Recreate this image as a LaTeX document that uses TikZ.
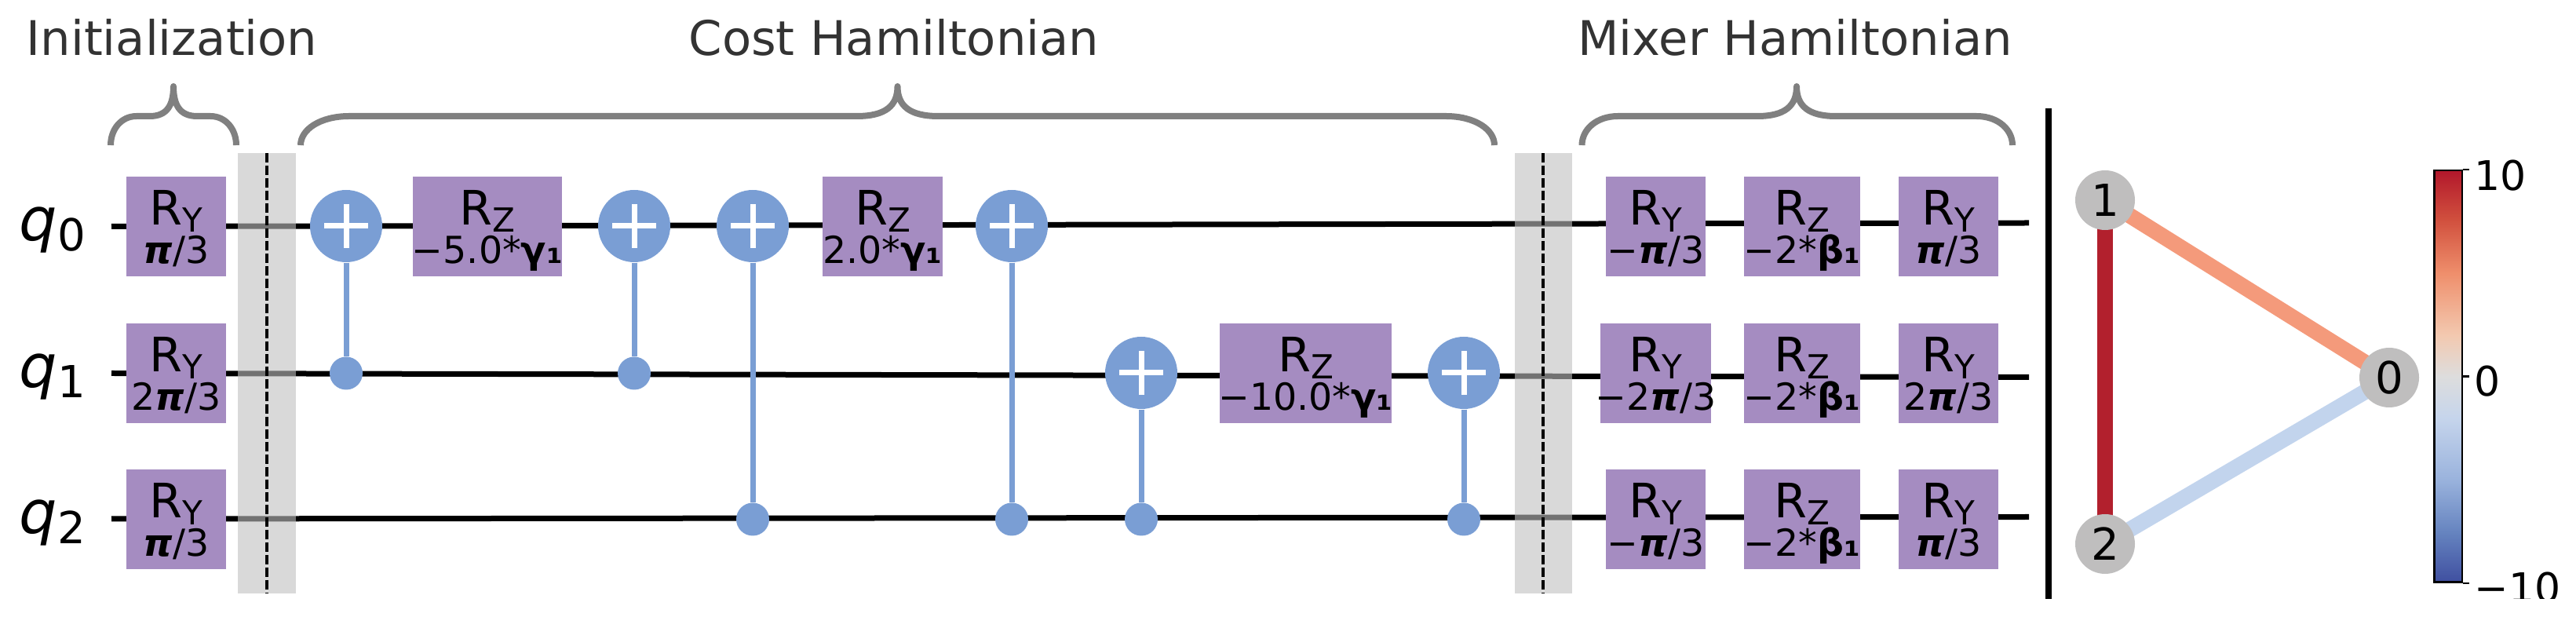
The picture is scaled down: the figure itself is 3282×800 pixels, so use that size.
\documentclass[tikz,border=0pt]{standalone}
\usepackage{fontspec}
\setmainfont{DejaVu Sans}
\usetikzlibrary{backgrounds}
\definecolor{gatepurple}{HTML}{A58CC1}
\definecolor{cnotblue}{HTML}{7A9ED4}
\definecolor{nodegray}{HTML}{BFBEBE}
\definecolor{edgered}{HTML}{B2202D}
\definecolor{edgeorange}{HTML}{F49A7B}
\definecolor{edgeblue}{HTML}{C2D4ED}
\definecolor{cbara}{HTML}{3F4FA0}
\definecolor{cbarb}{HTML}{6583BF}
\definecolor{cbarc}{HTML}{9AB3DD}
\definecolor{cbard}{HTML}{C6D5EC}
\definecolor{cbare}{HTML}{DDDDDD}
\definecolor{cbarf}{HTML}{F3C9B0}
\definecolor{cbarg}{HTML}{EF8F6C}
\definecolor{cbarh}{HTML}{D1503E}
\definecolor{cbari}{HTML}{B2182B}
\pgfdeclareverticalshading{cbarshade}{100bp}{
    color(0bp)=(cbara);
    color(25bp)=(cbara);
    color(31bp)=(cbarb);
    color(37.5bp)=(cbarc);
    color(45bp)=(cbard);
    color(50bp)=(cbare);
    color(55bp)=(cbarf);
    color(62.5bp)=(cbarg);
    color(69bp)=(cbarh);
    color(75bp)=(cbari);
    color(100bp)=(cbari)}
\tikzset{
    wire/.style={line width=.7mm},
    gate/.style={fill=gatepurple, inner sep=0pt, minimum height=12.7mm, align=center,
        font=\fontsize{17.2pt}{14.2pt}\selectfont},
    targ/.style={circle, fill=cnotblue, inner sep=0pt, minimum size=9.2mm,
        path picture={
            \draw[white, line width=.7mm] ([xshift=-2.8mm]path picture bounding box.center) -- ([xshift=2.8mm]path picture bounding box.center);
            \draw[white, line width=.7mm] ([yshift=-2.8mm]path picture bounding box.center) -- ([yshift=2.8mm]path picture bounding box.center);
        }},
    ctrl/.style={circle, fill=cnotblue, inner sep=0pt, minimum size=4.2mm},
    ctrlline/.style={draw=cnotblue, line width=.7mm},
    barrier/.style={fill=black!25!white, draw=none, fill opacity=.6},
    barrierline/.style={line width=.4mm, dash pattern=on 1.2mm off .4mm},
    brace/.style={draw=black!50!white, line width=.8mm, line join=round},
    title/.style={text=black!80!white, anchor=base, inner sep=0pt, font=\fontsize{17.3pt}{17.3pt}\selectfont},
    qlab/.style={anchor=base west, inner sep=0pt},
    graphnode/.style={circle, fill=nodegray, inner sep=0pt, minimum size=7.6mm, font=\fontsize{16pt}{16pt}\selectfont},
    graphedge/.style={line width=2mm},
    cbartick/.style={anchor=base west, inner sep=0pt, font=\fontsize{14.8pt}{14.8pt}\selectfont},
}
\newcommand{\qlabel}[1]{{\fontsize{21.7pt}{22pt}\selectfont\itshape q}\raisebox{-3.7pt}{\fontsize{16pt}{16pt}\selectfont #1}}
\newcommand{\rlabel}[2]{\rule{0pt}{12.8pt}R\raisebox{-2.6pt}{\fontsize{12pt}{14.2pt}\selectfont #1}\\\fontsize{13.5pt}{14.2pt}\selectfont\raisebox{0pt}[\height][0pt]{\makebox[0pt][c]{#2}}}
\newcommand{\bpi}{{\bfseries\itshape π}}
\newcommand{\bgam}{{\bfseries γ₁}}
\newcommand{\bbet}{{\bfseries β₁}}
\newcommand{\qbrace}[5]{
    \draw[brace] (#1,185) .. controls (#1,165) and (#1+#4*.4,148) .. (#1+#4,148)
        -- (#2-#5,148) .. controls (#2-#5*.3,148) and (#2,135) .. (#2,110)
        .. controls (#2,135) and (#2+#5*.3,148) .. (#2+#5,148)
        -- (#3-#4,148) .. controls (#3-#4*.4,148) and (#3,165) .. (#3,185);
}
\begin{document}
\begin{tikzpicture}[x=.1mm, y=-.1mm]
    \useasboundingbox (0,0) rectangle (3282,800);
    \clip (0,0) rectangle (3282,763);

    \node[title] (tinit) at (219,71) {Initialization};
    \node[title] (tcost) at (1139,71) {Cost Hamiltonian};
    \node[title] (tmix) at (2287,71) {Mixer Hamiltonian};
    \qbrace{141}{221}{301}{33}{30}
    \qbrace{383}{1143.5}{1904}{62}{52}
    \qbrace{2015.5}{2289}{2564}{46}{50}

    \node[qlab] (q0) at (24,307) {\qlabel{0}};
    \node[qlab] (q1) at (24,494) {\qlabel{1}};
    \node[qlab] (q2) at (24,680) {\qlabel{2}};

    \coordinate (q0in) at (142,288.5);
    \coordinate (q1in) at (142,475.5);
    \coordinate (q2in) at (142,661);
    \coordinate (q0out) at (2585,284);
    \coordinate (q1out) at (2585,480.5);
    \coordinate (q2out) at (2585,658.5);
    \draw[wire] (q0in) -- (q0out);
    \draw[wire] (q1in) -- (q1out);
    \draw[wire] (q2in) -- (q2out);

    \fill[barrier] (303,195) rectangle (377,382);
    \fill[barrier] (303,382) rectangle (377,568);
    \fill[barrier] (303,568) rectangle (377,756);
    \draw[barrierline] (340,195) -- (340,756);
    \fill[barrier] (1930,195) rectangle (2003,382);
    \fill[barrier] (1930,382) rectangle (2003,568);
    \fill[barrier] (1930,568) rectangle (2003,756);
    \draw[barrierline] (1966,195) -- (1966,756);

    \node[gate, minimum width=12.7mm] (init0) at (224.5,288.5) {\rlabel{Y}{\bpi/3}};
    \node[gate, minimum width=12.7mm] (init1) at (224.5,475.5) {\rlabel{Y}{2\bpi/3}};
    \node[gate, minimum width=12.7mm] (init2) at (224.5,661.5) {\rlabel{Y}{\bpi/3}};

    \node[targ] (t1) at (441,288) {};
    \node[ctrl] (c1) at (441,475.5) {};
    \draw[ctrlline] (t1) -- (c1);
    \node[gate, minimum width=19mm] (rz1) at (621,288.5) {\rlabel{Z}{−5.0*\bgam}};
    \node[targ] (t2) at (808,288) {};
    \node[ctrl] (c2) at (808,475.5) {};
    \draw[ctrlline] (t2) -- (c2);
    \node[targ] (t3) at (959,288) {};
    \node[ctrl] (c3) at (959,661.5) {};
    \draw[ctrlline] (t3) -- (c3);
    \node[gate, minimum width=15.3mm] (rz2) at (1124.5,288.5) {\rlabel{Z}{2.0*\bgam}};
    \node[targ] (t4) at (1289,288) {};
    \node[ctrl] (c4) at (1289,661.5) {};
    \draw[ctrlline] (t4) -- (c4);
    \node[targ] (t5) at (1454,475) {};
    \node[ctrl] (c5) at (1454,661.5) {};
    \draw[ctrlline] (t5) -- (c5);
    \node[gate, minimum width=21.9mm] (rz3) at (1663.5,475.5) {\rlabel{Z}{−10.0*\bgam}};
    \node[targ] (t6) at (1865,475) {};
    \node[ctrl] (c6) at (1865,661.5) {};
    \draw[ctrlline] (t6) -- (c6);

    \node[gate, minimum width=12.7mm] (mixa0) at (2109.5,288.5) {\rlabel{Y}{−\bpi/3}};
    \node[gate, minimum width=14.1mm] (mixa1) at (2109.5,475.5) {\rlabel{Y}{−2\bpi/3}};
    \node[gate, minimum width=12.7mm] (mixa2) at (2109.5,661.5) {\rlabel{Y}{−\bpi/3}};
    \node[gate, minimum width=14.8mm] (mixb0) at (2296,288.5) {\rlabel{Z}{−2*\bbet}};
    \node[gate, minimum width=14.8mm] (mixb1) at (2296,475.5) {\rlabel{Z}{−2*\bbet}};
    \node[gate, minimum width=14.8mm] (mixb2) at (2296,661.5) {\rlabel{Z}{−2*\bbet}};
    \node[gate, minimum width=12.7mm] (mixc0) at (2482.5,288.5) {\rlabel{Y}{\bpi/3}};
    \node[gate, minimum width=12.7mm] (mixc1) at (2482.5,475.5) {\rlabel{Y}{2\bpi/3}};
    \node[gate, minimum width=12.7mm] (mixc2) at (2482.5,661.5) {\rlabel{Y}{\bpi/3}};

    \draw[line width=.75mm] (2610,138) -- (2610,764);

    \node[graphnode] (g1) at (2682,255) {1};
    \node[graphnode] (g2) at (2682,693) {2};
    \node[graphnode] (g0) at (3044,481) {0};
    \begin{scope}[on background layer]
        \draw[graphedge, edgered] (g1.center) -- (g2.center);
        \draw[graphedge, edgeorange] (g1.center) -- (g0.center);
        \draw[graphedge, edgeblue] (g2.center) -- (g0.center);
    \end{scope}

    \node[draw=black, line width=.25mm, inner sep=0pt, minimum width=3.55mm, minimum height=52.45mm, shading=cbarshade] (cbar) at (3119,479.5) {};
    \node[cbartick] (lab10) at (3152,243) {10};
    \node[cbartick] (lab0) at (3152,505) {0};
    \node[cbartick] (labm) at (3152,768) {−10};
    \draw[line width=.25mm] (cbar.north east) -- ++(8,0);
    \draw[line width=.25mm] (cbar.east) -- ++(8,0);
    \draw[line width=.25mm] (cbar.south east) -- ++(8,0);
\end{tikzpicture}
\end{document}
